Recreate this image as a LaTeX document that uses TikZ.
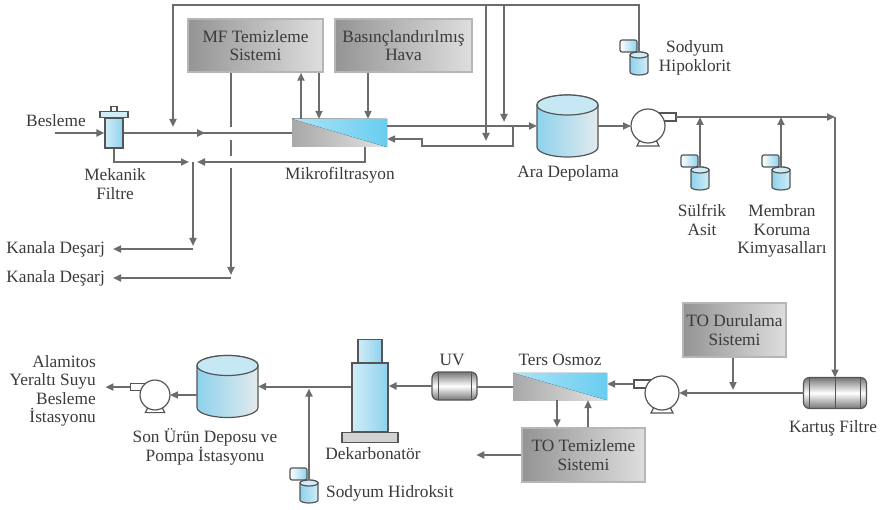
\documentclass[tikz,border=0pt]{standalone}
\usepackage{fontspec}
\setmainfont{Liberation Serif}
\usetikzlibrary{arrows.meta,calc,decorations.markings}

\definecolor{pipe}{RGB}{108,108,108}
\definecolor{ink}{RGB}{58,58,58}
\definecolor{edge}{RGB}{85,85,85}
\definecolor{boxdark}{RGB}{148,148,148}
\definecolor{boxlight}{RGB}{222,222,222}
\definecolor{boxrim}{RGB}{182,182,182}
\definecolor{water}{RGB}{105,205,240}
\definecolor{tanklt}{RGB}{208,236,247}
\definecolor{tankbl}{RGB}{142,210,237}
\definecolor{metal}{RGB}{118,118,118}

\tikzset{
  flow/.style={draw=pipe, line width=2pt},
  arr/.style={flow, -{Triangle[length=8pt,width=7pt]}},
  midarr/.style={flow, postaction={decorate},
    decoration={markings, mark=at position #1 with {\arrow[pipe]{Triangle[length=8pt,width=7pt]}}}},
  outl/.style={draw=edge, line width=1.2pt},
  lbl/.style={text=ink, align=center, inner sep=1pt, font=\fontsize{17.3}{18.5}\selectfont},
  sysbox/.style={lbl, draw=boxrim, line width=1.5pt, left color=boxdark, right color=boxlight},
  membrane/.style={left color=gray!68, right color=gray!22, minimum height=28pt, inner sep=0pt},
  filt/.style={outl, left color=tanklt, right color=tankbl, inner sep=0pt},
  % storage tank, upright cylinder
  pics/tank/.style={code={
    \draw[outl, left color=tankbl, right color=tanklt!70!gray!40]
      (-30.5,-21) -- (-30.5,21) arc (180:0:30.5 and 10) -- (30.5,-21) arc (0:-180:30.5 and 10) -- cycle;
    \draw[outl, fill=tanklt!85!tankbl] (0,-21) ellipse (30.5 and 10);
    \coordinate (-w) at (-30.5,0);
    \coordinate (-e) at (30.5,0);
  }},
  % centrifugal pump, outlet on the right
  pics/pump/.style={code={
    \draw[outl, fill=white] (-8,14) -- (-11,20) -- (11,20) -- (8,14) -- cycle;
    \draw[outl, fill=white] (10,-13) rectangle (28,-5);
    \draw[outl, fill=white] (0,0) circle (17);
    \coordinate (-in) at (-17,0);
    \coordinate (-out) at (28,-9);
  }},
  % chemical drum with dosing pump
  pics/doser/.style={code={
    \draw[outl, left color=white, right color=tankbl, rounded corners=2pt] (-19,-15) rectangle (-2,-3);
    \draw[outl, left color=tankbl, right color=tanklt]
      (-9,0) -- (-9,17) arc (180:0:9 and 3) -- (9,0) arc (0:-180:9 and 3) -- cycle;
    \draw[outl, fill=tanklt] (0,0) ellipse (9 and 3);
    \coordinate (-top) at (0,-3);
  }},
  % metal housing lying on its side
  pics/tube/.style 2 args={code={
    \draw[outl, top color=metal, bottom color=metal, middle color=white, rounded corners=6pt]
      (-#1/2,-#2/2) rectangle (#1/2,#2/2);
    \draw[edge, line width=0.6pt] (-#1/2+6,-#2/2) -- (-#1/2+6,#2/2);
    \draw[edge, line width=0.6pt] (#1/2-6,-#2/2) -- (#1/2-6,#2/2);
    \coordinate (-w) at (-#1/2,0);
    \coordinate (-e) at (#1/2,0);
    \coordinate (-n) at (0,-#2/2);
    \coordinate (-s) at (0,#2/2);
  }}
}

\begin{document}
\begin{tikzpicture}[x=1pt, y=-1pt]
  \useasboundingbox (0,0) rectangle (880,510);

  %% units
  \node[filt, minimum width=18pt, minimum height=30pt] (mfilter) at (114,133) {};
  \draw[outl, fill=tanklt] ($(mfilter.north)+(-14,0)$) rectangle ($(mfilter.north)+(14,-6)$);
  \draw[outl, fill=white] ($(mfilter.north)+(-3,-6)$) rectangle ($(mfilter.north)+(3,-11)$);

  \node[membrane, minimum width=95pt] (mf) at (339.5,133) {};
  \fill[left color=water!55!white, right color=water] (mf.north west) -- (mf.north east) -- (mf.south east) -- cycle;

  \node[sysbox, minimum width=135pt, minimum height=53pt] (mfclean) at (255.5,45.5) {MF Temizleme\\Sistemi};
  \node[sysbox, minimum width=137pt, minimum height=53pt] (air) at (403.5,45.5) {Basınçlandırılmış\\Hava};

  \pic (ara) at (567.5,126) {tank};
  \pic (p1) at (648,126) {pump};
  \pic (kart) at (835,393) {tube={63}{31}};
  \draw[edge, line width=0.6pt] (kart-n) -- (kart-s);

  \node[sysbox, minimum width=103pt, minimum height=54pt] (todur) at (734.5,330) {TO Durulama\\Sistemi};
  \pic[xscale=-1] (p2) at (662,393) {pump};
  \node[membrane, minimum width=94pt, minimum height=27pt] (ro) at (560,386.5) {};
  \fill[left color=water!55!white, right color=water] (ro.north west) -- (ro.north east) -- (ro.south east) -- cycle;
  \node[sysbox, minimum width=123pt, minimum height=54pt] (toclean) at (583.5,455) {TO Temizleme\\Sistemi};

  \pic (uv) at (454.5,386) {tube={45}{28}};

  \node[filt, minimum width=36pt, minimum height=69pt] (dek) at (370,397.5) {};
  \draw[outl, left color=tanklt, right color=tankbl] ($(dek.north)+(-12,0)$) rectangle ($(dek.north)+(12,-23)$);
  \draw[outl, fill=gray!35] ($(dek.south)+(-28,0)$) rectangle ($(dek.south)+(28,10)$);

  \pic (son) at (227.5,386.5) {tank};
  \pic[xscale=-1, scale=0.88] (p3) at (155,395) {pump};

  %% chemical drums
  \pic (hipo) at (639,55) {doser};
  \pic (sulf) at (700,170) {doser};
  \pic (memb) at (781,170) {doser};
  \pic (naoh) at (309,483) {doser};

  %% feed and microfiltration
  \draw[arr] (55,133) -- (mfilter.west);
  \draw[midarr=0.485] (mfilter.east) -- (mf.west);
  \draw[arr] (mfilter.south) |- (189,162);
  \draw[arr] (mf.south -| 365,0) |- (197,162);
  \draw[arr] (193,162) -- (193,246);
  \draw[arr] (mf.north -| 301,0) -- (mfclean.south -| 301,0);
  \draw[arr] (mfclean.south -| 319,0) -- (mf.north -| 319,0);
  \draw[arr] (air.south -| 368,0) -- (mf.north -| 368,0);

  % cleaning waste line, broken where it passes the process lines
  \draw[flow] (mfclean.south -| 231,0) -- (231,127);
  \draw[flow] (231,140) -- (231,156);
  \draw[arr] (231,168) -- (231,275);

  %% hypochlorite loop
  \draw[arr] (hipo-top) |- (173,5) -- (173,127);
  \draw[arr] (486,5) -- (486,141);
  \draw[arr] (504,5) -- (504,122);

  \draw[arr] (mf.east |- ara-w) -- (ara-w);
  \draw[arr] (513,126) -- (513,146) -- (422,146) -- (422,139) -- (mf.east |- 0,139);
  \draw[arr] (ara-e) -- (p1-in);
  \draw[arr] (p1-out) -- (p1-out -| kart-n);
  \draw[arr] (p1-out -| kart-n) -- (kart-n);
  \draw[arr] (sulf-top) -- (sulf-top |- p1-out);
  \draw[arr] (memb-top) -- (memb-top |- p1-out);

  %% reverse osmosis train
  \draw[arr] (kart-w) -- (p2-in);
  \draw[arr] (todur.south -| 733,0) -- (733,390);
  \draw[arr] (p2-out) -- (p2-out -| ro.east);
  \draw[arr] (ro.south -| 557,0) -- (toclean.north -| 557,0);
  \draw[arr] (toclean.north -| 588,0) -- (ro.south -| 588,0);
  \draw[arr] (toclean.west) -- ++(-45,0);
  \draw[flow] (ro.west) -- (ro.west -| uv-e);
  \draw[arr] (uv-w) -- (uv-w -| dek.east);
  \draw[arr] (son-e -| dek.west) -- (son-e);
  \draw[arr, shorten >=2pt] (naoh-top) -- (naoh-top |- son-e);
  \draw[arr] (son-w |- p3-in) -- (p3-in);
  \draw[arr] (p3-out) -- ++(-25,0);

  %% labels
  \node[lbl] (lbesleme) at (56,121) {Besleme};
  \node[lbl] (lmfilter) at (115,184) {Mekanik\\Filtre};
  \node[lbl] (lmf) at (340,175) {Mikrofiltrasyon};
  \node[lbl, anchor=east] (drain1) at (106,249) {Kanala Deşarj};
  \node[lbl, anchor=east] (drain2) at (106,278) {Kanala Deşarj};
  \draw[arr] (193,249) -- ([xshift=7pt]drain1.east);
  \draw[arr] (231,278) -- ([xshift=7pt]drain2.east);
  \node[lbl] (lara) at (568,173) {Ara Depolama};
  \node[lbl] (lhipo) at (695,58) {Sodyum\\Hipoklorit};
  \node[lbl] (lsulf) at (702,220) {Sülfrik\\Asit};
  \node[lbl] (lmemb) at (782,231) {Membran\\Koruma\\Kimyasalları};
  \node[lbl] (lkart) at (833,428) {Kartuş Filtre};
  \node[lbl] (lro) at (560,360) {Ters Osmoz};
  \node[lbl] (luv) at (452,360) {UV};
  \node[lbl] (ldek) at (373,454) {Dekarbonatör};
  \node[lbl] (lson) at (205,447) {Son Ürün Deposu ve\\Pompa İstasyonu};
  \node[lbl, anchor=west] (lnaoh) at (325,493) {Sodyum Hidroksit};
  \node[lbl, anchor=east, align=right] (lalam) at (97,391) {Alamitos\\Yeraltı Suyu\\Besleme\\İstasyonu};
\end{tikzpicture}
\end{document}
